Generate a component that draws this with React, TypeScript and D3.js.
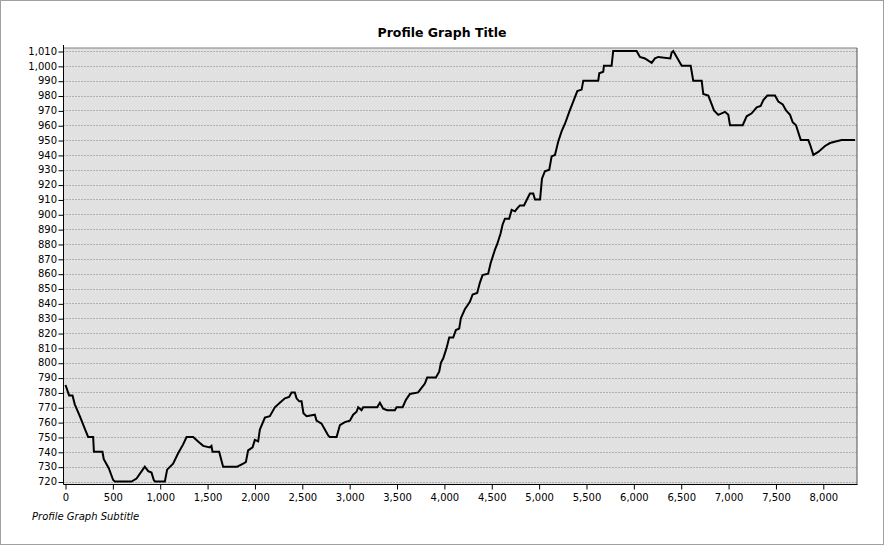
import * as d3 from "d3";
import React, { useEffect, useRef } from "react";

// distance along profile (x) and elevation (y)
const distances = [
  0, 38, 74, 98, 151, 214, 239, 292, 300, 390, 404, 457, 503, 521, 697, 750,
  837, 873, 908, 932, 945, 1049, 1073, 1136, 1189, 1242, 1278, 1348, 1400,
  1453, 1524, 1541, 1552, 1622, 1647, 1664, 1812, 1876, 1904, 1928, 1975, 1999,
  2034, 2052, 2105, 2157, 2210, 2263, 2316, 2361, 2386, 2421, 2439, 2467, 2492,
  2512, 2545, 2632, 2650, 2703, 2738, 2773, 2791, 2862, 2897, 2949, 3002, 3037,
  3073, 3090, 3125, 3143, 3290, 3319, 3354, 3396, 3477, 3495, 3559, 3594, 3636,
  3723, 3759, 3794, 3818, 3910, 3945, 3963, 3988, 4023, 4051, 4093, 4121, 4156,
  4174, 4216, 4269, 4298, 4346, 4375, 4403, 4462, 4488, 4533, 4558, 4593, 4614,
  4639, 4684, 4710, 4745, 4769, 4797, 4840, 4879, 4903, 4938, 4956, 5010, 5030,
  5061, 5107, 5132, 5167, 5202, 5238, 5273, 5318, 5361, 5403, 5449, 5466, 5624,
  5635, 5677, 5684, 5765, 5782, 6029, 6064, 6117, 6188, 6223, 6258, 6385, 6399,
  6416, 6452, 6505, 6600, 6627, 6716, 6733, 6786, 6822, 6846, 6891, 6927, 6962,
  6997, 7015, 7149, 7191, 7244, 7297, 7339, 7367, 7409, 7490, 7525, 7572, 7607,
  7649, 7677, 7712, 7747, 7762, 7842, 7860, 7895, 7947, 8018, 8071, 8130, 8194,
  8335,
];
const elevations = [
  785, 778, 778, 772, 764, 754, 750, 750, 740, 740, 735, 729, 721, 720, 720,
  722, 730, 727, 726, 721, 720, 720, 728, 732, 739, 745, 750, 750, 747, 744,
  743, 744, 740, 740, 734, 730, 730, 732, 733, 741, 743, 748, 747, 755, 763,
  764, 770, 773, 776, 777, 780, 780, 776, 774, 774, 766, 764, 765, 761, 759,
  755, 751, 750, 750, 758, 760, 761, 765, 767, 770, 768, 770, 770, 773, 769,
  768, 768, 770, 770, 775, 779, 780, 783, 786, 790, 790, 794, 800, 803, 810,
  817, 817, 822, 823, 830, 836, 841, 846, 847, 854, 859, 860, 867, 876, 880,
  887, 893, 897, 897, 903, 902, 904, 906, 906, 911, 914, 914, 910, 910, 924,
  929, 930, 939, 940, 949, 956, 961, 969, 976, 983, 984, 990, 990, 995, 996,
  1000, 1000, 1010, 1010, 1006, 1005, 1002, 1005, 1006, 1005, 1009, 1010, 1006,
  1000, 1000, 990, 990, 981, 980, 974, 970, 967, 968, 969, 967, 960, 960, 966,
  968, 972, 973, 977, 980, 980, 976, 974, 970, 967, 962, 960, 953, 950, 950,
  947, 940, 942, 946, 948, 949, 950, 950,
];
const xTicks = d3.range(0, 8001, 500);
const yTicks = d3.range(720, 1011, 10);
const title = "Profile Graph Title";
const subtitle = "Profile Graph Subtitle";

const W = 884;
const H = 545;
const plot = { left: 63.5, right: 857, top: 48, bottom: 484.5 };
const FONT = "'DejaVu Sans', Verdana, sans-serif";

const App: React.FC = () => {
  const svgRef = useRef<SVGSVGElement>(null);

  useEffect(() => {
    const svg = d3.select(svgRef.current);
    svg.selectAll("*").remove();

    const x = d3.scaleLinear().domain([0, 8000]).range([65.5, 823.3]);
    const y = d3.scaleLinear().domain([720, 1010]).range([481.5, 51]);

    // outer frame
    svg
      .append("rect")
      .attr("x", 0.5)
      .attr("y", 0.5)
      .attr("width", W - 1)
      .attr("height", H - 1)
      .attr("fill", "#fff")
      .attr("stroke", "#a0a0a0");

    // plot background
    svg
      .append("rect")
      .attr("x", plot.left)
      .attr("y", plot.top)
      .attr("width", plot.right - plot.left)
      .attr("height", plot.bottom - plot.top)
      .attr("fill", "#e1e1e1");

    // dotted grid
    svg
      .append("g")
      .selectAll("line")
      .data(yTicks)
      .join("line")
      .attr("x1", plot.left)
      .attr("x2", plot.right)
      .attr("y1", (d) => Math.round(y(d)) + 0.5)
      .attr("y2", (d) => Math.round(y(d)) + 0.5)
      .attr("stroke", "#808080")
      .attr("stroke-dasharray", "1,2");

    // frame of plot: top / right grey, left / bottom black axis lines
    svg
      .append("line")
      .attr("x1", plot.left)
      .attr("x2", plot.right)
      .attr("y1", plot.top)
      .attr("y2", plot.top)
      .attr("stroke", "#808080");
    svg
      .append("line")
      .attr("x1", plot.right)
      .attr("x2", plot.right)
      .attr("y1", plot.top)
      .attr("y2", plot.bottom)
      .attr("stroke", "#505050");

    const yAxis = (g: d3.Selection<SVGGElement, unknown, null, undefined>) =>
      g
        .attr("transform", `translate(${plot.left},0)`)
        .call(
          d3
            .axisLeft(y)
            .tickValues(yTicks)
            .tickSize(5)
            .tickSizeOuter(0)
            .tickPadding(1.5)
            .tickFormat(d3.format(","))
        )
        .call((g) => g.select(".domain").remove())
        .call((g) =>
          g
            .selectAll(".tick line")
            .attr("transform", "translate(0,0.5)")
            .attr("stroke", "#000")
        )
        .call((g) =>
          g
            .selectAll("text")
            .attr("fill", "#000")
            .style("font-family", FONT)
            .style("font-size", "10px")
        );

    const xAxis = (g: d3.Selection<SVGGElement, unknown, null, undefined>) =>
      g
        .attr("transform", `translate(0,${plot.bottom})`)
        .call(
          d3
            .axisBottom(x)
            .tickValues(xTicks)
            .tickSize(5)
            .tickSizeOuter(0)
            .tickPadding(4)
            .tickFormat(d3.format(","))
        )
        .call((g) => g.select(".domain").remove())
        .call((g) => g.selectAll(".tick line").attr("stroke", "#000"))
        .call((g) =>
          g
            .selectAll("text")
            .attr("fill", "#000")
            .style("font-family", FONT)
            .style("font-size", "10px")
        );

    svg.append("g").call(yAxis);
    svg.append("g").call(xAxis);

    svg
      .append("line")
      .attr("x1", plot.left)
      .attr("x2", plot.left)
      .attr("y1", plot.top - 3)
      .attr("y2", plot.bottom)
      .attr("stroke", "#000");
    svg
      .append("line")
      .attr("x1", plot.left)
      .attr("x2", plot.right + 0.5)
      .attr("y1", plot.bottom)
      .attr("y2", plot.bottom)
      .attr("stroke", "#000");

    // profile line
    const points = distances.map((d, i) => [d, elevations[i]] as [number, number]);
    const line = d3
      .line<[number, number]>()
      .x((d) => x(d[0]))
      .y((d) => y(d[1]));
    svg
      .append("path")
      .datum(points)
      .attr("d", line)
      .attr("fill", "none")
      .attr("stroke", "#000")
      .attr("stroke-width", 2)
      .attr("stroke-linejoin", "miter");

    svg
      .append("text")
      .attr("x", 442)
      .attr("y", 37)
      .attr("text-anchor", "middle")
      .style("font-family", FONT)
      .style("font-weight", "bold")
      .style("font-size", "12.5px")
      .text(title);

    svg
      .append("text")
      .attr("x", 32)
      .attr("y", 519.5)
      .style("font-family", FONT)
      .style("font-style", "italic")
      .style("font-size", "10px")
      .text(subtitle);
  }, []);

  return (
    <div style={{ position: "absolute", left: 0, top: 0 }}>
      <svg ref={svgRef} width={W} height={H} style={{ display: "block" }} />
    </div>
  );
};

export default App;
